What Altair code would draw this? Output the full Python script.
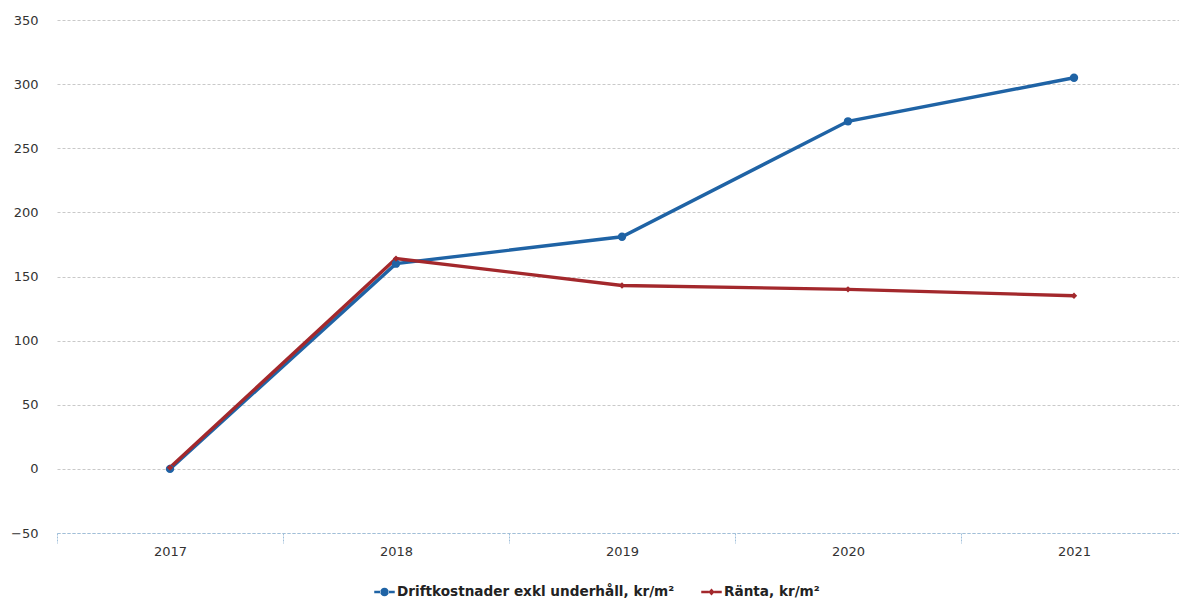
import altair as alt
import pandas as pd

years = ["2017", "2018", "2019", "2020", "2021"]
drift = [0, 160, 181, 271, 305]
ranta = [1, 164, 143, 140, 135]
series_names = ["Driftkostnader exkl underhåll, kr/m²", "Ränta, kr/m²"]
y_ticks = [-50, 0, 50, 100, 150, 200, 250, 300, 350]

rows = []
for y, v in zip(years, drift):
    rows.append({"year": y, "value": v, "series": series_names[0]})
for y, v in zip(years, ranta):
    rows.append({"year": y, "value": v, "series": series_names[1]})
df = pd.DataFrame(rows)

colors = ["#1f63a5", "#a3282c"]
color_scale = alt.Scale(domain=series_names, range=colors)

x_enc = alt.X("year:N", title=None, sort=years,
              scale=alt.Scale(paddingInner=0, paddingOuter=0, range=[0, 1130]),
              axis=alt.Axis(labelAngle=0, tickBand="extent", tickSize=10,
                            tickColor="#9fbfda", domainColor="#9fbfda",
                            domainDash=[3, 2], tickDash=[2, 1], labelPadding=2,
                            labelFont="DejaVu Sans", labelFontSize=13,
                            labelColor="#333333", grid=False))
y_enc = alt.Y("value:Q", title=None,
              scale=alt.Scale(domain=[-50, 350], nice=False, zero=False),
              axis=alt.Axis(values=y_ticks, domain=False, ticks=False, tickSize=0,
                            labelPadding=19, labelFont="DejaVu Sans", labelFontSize=13,
                            labelColor="#333333", grid=True, gridColor="#c9c9c9",
                            gridDash=[3, 2], gridWidth=1))

lines = alt.Chart(df).mark_line(strokeWidth=3.4).encode(
    x=x_enc, y=y_enc,
    color=alt.Color("series:N", scale=color_scale, legend=None),
    detail="series:N",
)

points = alt.Chart(df).mark_point(filled=True, opacity=1).encode(
    x=x_enc, y=y_enc,
    color=alt.Color("series:N", scale=color_scale, legend=None),
    shape=alt.Shape("series:N", scale=alt.Scale(domain=series_names, range=["circle", "diamond"]),
                    legend=None),
    size=alt.Size("series:N", scale=alt.Scale(domain=series_names, range=[70, 40]), legend=None),
)

circle_path = ("M-1,-0.12L-0.36,-0.12L-0.36,0.12L-1,0.12Z"
               "M0.36,-0.12L1,-0.12L1,0.12L0.36,0.12Z"
               "M-0.42,0A0.42,0.42 0 1,0 0.42,0A0.42,0.42 0 1,0 -0.42,0Z")
diamond_path = ("M-1,-0.12L-0.26,-0.12L-0.26,0.12L-1,0.12Z"
                "M0.26,-0.12L1,-0.12L1,0.12L0.26,0.12Z"
                "M0,-0.34L0.32,0L0,0.34L-0.32,0Z")

lg_legend = alt.Legend(title=None, orient="none", direction="horizontal",
                       legendX=317, legendY=561,
                       symbolSize=420, symbolStrokeWidth=0,
                       symbolOpacity=1,
                       labelFont="DejaVu Sans", labelFontSize=13.6,
                       labelFontWeight="bold", labelColor="#222222",
                       columnPadding=26, labelOffset=2,
                       labelLimit=400)

legend_layer = alt.Chart(df).mark_point(filled=True, opacity=0, size=1).encode(
    x=x_enc, y=y_enc,
    color=alt.Color("lg:N", scale=alt.Scale(domain=series_names, range=colors), legend=lg_legend),
    shape=alt.Shape("lg:N",
                    scale=alt.Scale(domain=series_names, range=[circle_path, diamond_path]),
                    legend=lg_legend),
).transform_calculate(lg="datum.series")

chart = alt.layer(lines, points, legend_layer).resolve_scale(
    shape="independent", color="independent"
).properties(
    width=1122, height=513,
    padding={"left": 57, "top": 20, "right": 0, "bottom": 66},
    autosize=alt.AutoSizeParams(type="none"),
    background="white",
).configure_view(stroke=None)

chart.save("out.html", embed_options={"renderer": "svg", "actions": False})
